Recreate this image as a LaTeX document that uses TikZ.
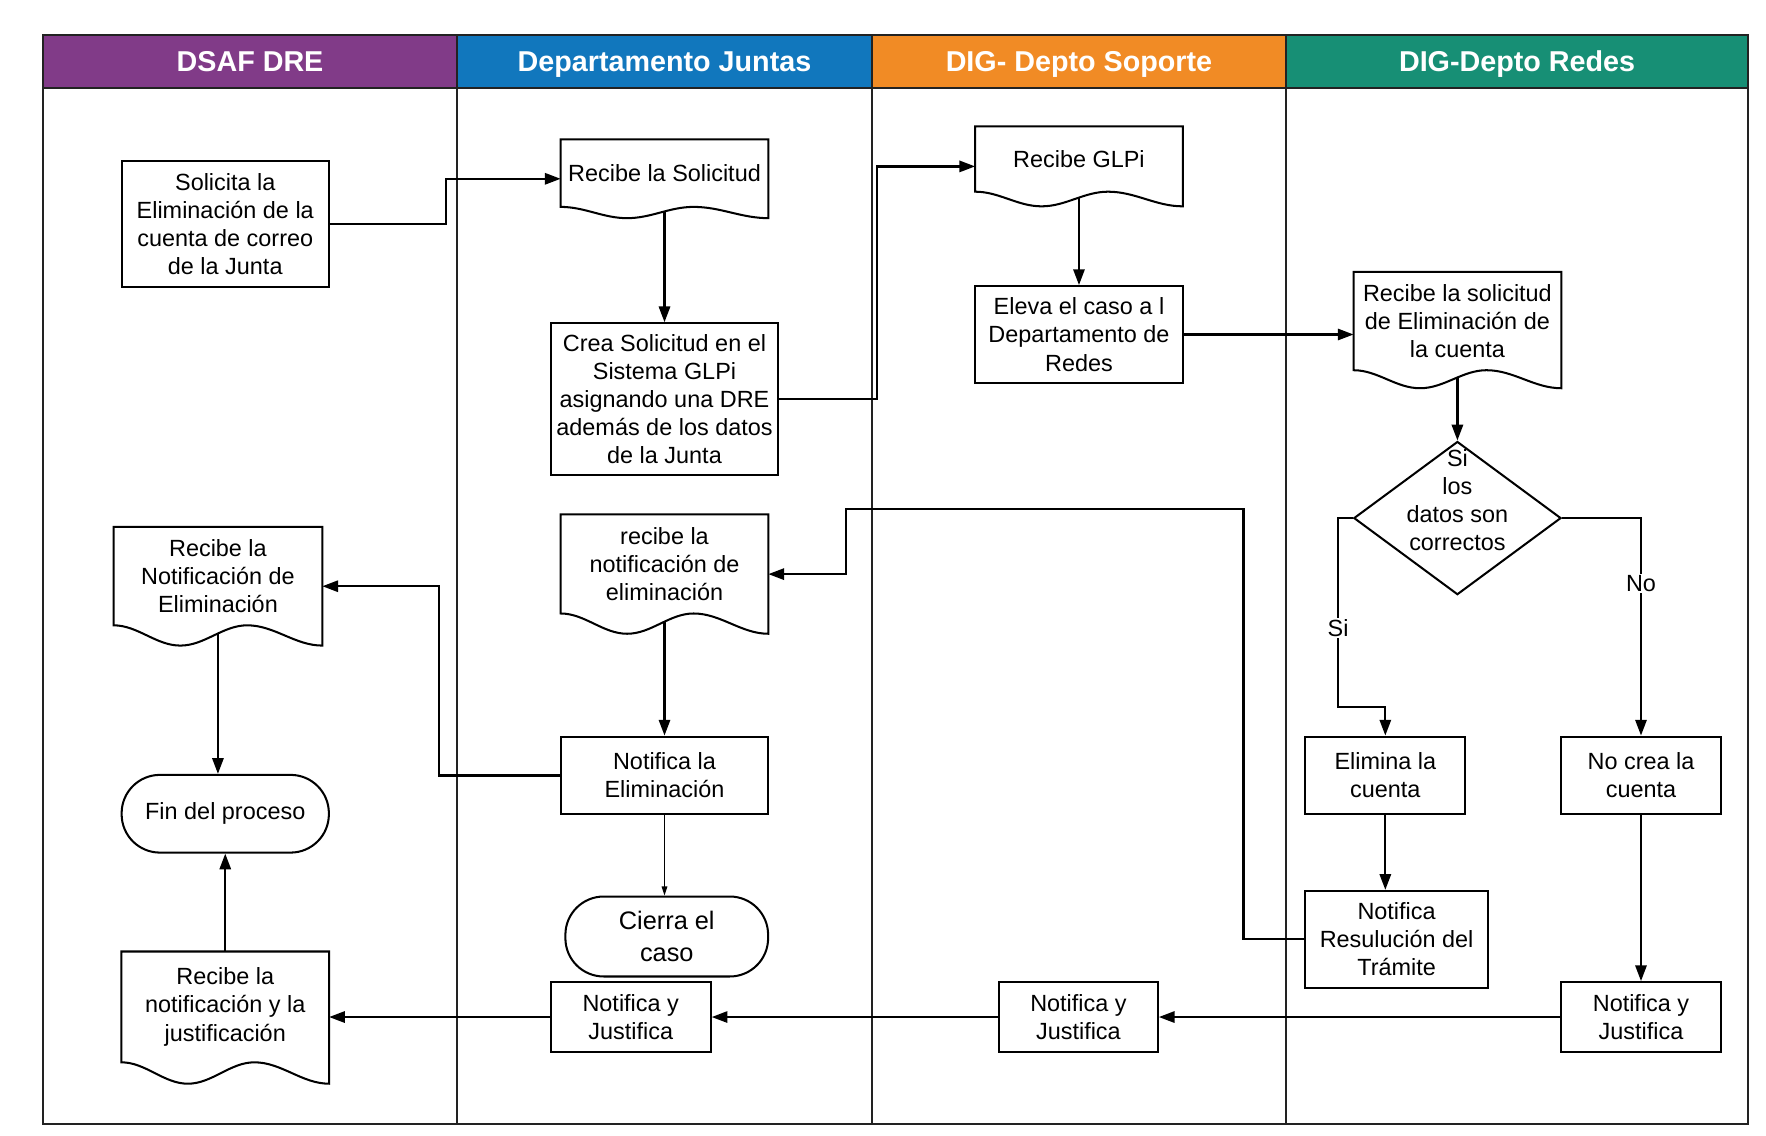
\documentclass[tikz,border=0pt]{standalone}
\usepackage{fontspec}
\setmainfont{Liberation Sans}
\usetikzlibrary{arrows.meta,calc,shapes.geometric}

\definecolor{cdsaf}{HTML}{813B88}
\definecolor{cjuntas}{HTML}{1177BD}
\definecolor{csoporte}{HTML}{F18B25}
\definecolor{credes}{HTML}{178F75}
\definecolor{cframe}{HTML}{222222}

\newcommand{\bodyfont}{\fontsize{20.8}{25}\selectfont}
\newcommand{\bigbodyfont}{\fontsize{22.5}{29}\selectfont}
\newcommand{\headfont}{\fontsize{25.5}{30}\selectfont\bfseries}

% document symbol: box down to the crest, wave of depth #2 below it
\newcommand{\docshape}[2]{%
  \draw[line width=1.8pt] (#1.north west) -- (#1.north east) -- ($(#1.south east)+(0,#2)$)
    cos ($(#1.south west)!.82!(#1.south east)+(0,#2/2)$)
    sin ($(#1.south west)!.64!(#1.south east)$)
    cos ($(#1.south west)!.48!(#1.south east)+(0,#2/2)$)
    sin ($(#1.south west)!.32!(#1.south east)+(0,#2)$)
    cos ($(#1.south west)!.16!(#1.south east)+(0,#2/2)$)
    sin (#1.south west) -- cycle;
  \coordinate (#1-out) at ($(#1.south)+(0,0.4*#2)$);
  \coordinate (#1-w) at ($(#1.west)+(0,#2/2)$);
  \coordinate (#1-e) at ($(#1.east)+(0,#2/2)$);
}

\tikzset{
  lanehead/.style={draw=cframe, line width=1.8pt, minimum height=47pt, inner sep=0pt,
    text=white, font=\headfont, text height=18pt, text depth=0pt},
  frame/.style={draw=cframe, line width=1.8pt},
  proc/.style={draw, line width=1.8pt, align=center, inner sep=0pt, font=\bodyfont},
  doc/.style={align=center, inner sep=0pt, font=\bodyfont},
  term/.style={draw, line width=1.8pt, rounded corners=34pt, align=center, inner sep=0pt, font=\bodyfont},
  decision/.style={draw, diamond, line width=1.8pt, inner sep=0pt, font=\bodyfont,
    minimum width=184pt, minimum height=136pt},
  flow/.style={line width=2pt, -{Triangle[length=14pt,width=10pt]}},
  flowthin/.style={line width=1pt, -{Triangle[length=8pt,width=5pt]}},
  lbl/.style={fill=white, inner sep=1pt, font=\bodyfont}
}

\begin{document}
\begin{tikzpicture}[x=1pt,y=-1pt]
\useasboundingbox (0,0) rectangle (1568,1008);

\draw[frame] (38,78) rectangle (1552,998);
\foreach \x in {406,774,1142}
  \draw[frame] (\x,78) -- (\x,998);
\node[lanehead, fill=cdsaf, minimum width=368pt] (hdsaf) at (222,54.5) {DSAF DRE};
\node[lanehead, fill=cjuntas, minimum width=368pt] (hjuntas) at (590,54.5) {Departamento Juntas};
\node[lanehead, fill=csoporte, minimum width=368pt] (hsoporte) at (958,54.5) {DIG- Depto Soporte};
\node[lanehead, fill=credes, minimum width=410pt] (hredes) at (1347,54.5) {DIG-Depto Redes};

\node[proc, minimum width=184pt, minimum height=112pt] (solicita) at (200,199)
  {Solicita la\\Eliminación de la\\cuenta de correo\\de la Junta};
\node[doc, minimum width=185pt, minimum height=87pt] (recnot) at (193.5,511.5)
  {Recibe la\\Notificación de\\Eliminación};
\docshape{recnot}{18}
\node[term, minimum width=184pt, minimum height=69pt] (fin) at (200,722.5) {Fin del proceso};
\node[doc, minimum width=184pt, minimum height=98pt] (recjus) at (200,894)
  {Recibe la\\notificación y la\\justificación};
\docshape{recjus}{19}

\node[doc, minimum width=184pt, minimum height=59.5pt] (recsol) at (590,153.75) {Recibe la Solicitud};
\docshape{recsol}{10}
\node[proc, minimum width=202pt, minimum height=135pt] (crea) at (590,354.5)
  {Crea Solicitud en el\\Sistema GLPi\\asignando una DRE\\además de los datos\\de la Junta};
\node[doc, minimum width=184pt, minimum height=87.5pt] (recnotb) at (590,500.75)
  {recibe la\\notificación de\\eliminación};
\docshape{recnotb}{18}
\node[proc, minimum width=184pt, minimum height=69pt] (notelim) at (590,688.5) {Notifica la\\Eliminación};
\node[term, font=\bigbodyfont, minimum width=180pt, minimum height=71pt] (cierra) at (592,831.5) {Cierra el\\caso};
\node[proc, minimum width=142pt, minimum height=62pt] (njjuntas) at (560,903) {Notifica y\\Justifica};

\node[doc, minimum width=184pt, minimum height=57.5pt] (recglpi) at (958,141.25) {Recibe GLPi};
\docshape{recglpi}{13}
\node[proc, minimum width=184pt, minimum height=86pt] (eleva) at (958,297)
  {Eleva el caso a l\\Departamento de\\Redes};
\node[proc, minimum width=141pt, minimum height=62pt] (njsoporte) at (957.5,903) {Notifica y\\Justifica};

\node[doc, minimum width=184pt, minimum height=87pt] (recred) at (1294,285)
  {Recibe la solicitud\\de Eliminación de\\la cuenta};
\docshape{recred}{16}
\node[decision] (datos) at (1294,460)
  {\raisebox{8.3pt}[0pt][0pt]{\begin{tabular}{@{}c@{}}Si\\los\\datos son\\correctos\end{tabular}}};
\node[proc, minimum width=142pt, minimum height=69pt] (elimina) at (1230,688.5) {Elimina la\\cuenta};
\node[proc, minimum width=142pt, minimum height=69pt] (nocrea) at (1457,688.5) {No crea la\\cuenta};
\node[proc, minimum width=162pt, minimum height=86pt] (notres) at (1240,834)
  {Notifica\\Resulución del\\Trámite};
\node[proc, minimum width=142pt, minimum height=62pt] (njredes) at (1457,903) {Notifica y\\Justifica};

\draw[flow] (solicita.east) -- ++(103,0) |- (recsol-w);
\draw[flow] (recsol-out) -- (crea.north);
\draw[flow] (crea.east) -- ++(87,0) |- (recglpi-w);
\draw[flow] (recglpi-out) -- (eleva.north);
\draw[flow] (eleva.east) -- (eleva.east -| recred.west);
\draw[flow] (recred-out) -- (datos.north);
\draw[flow] (datos.west) -- ++(-13,0) -- node[lbl,pos=0.58] (lsi) {Si} ++(0,168) -| (elimina.north);
\draw[flow] (datos.east) -| node[lbl,pos=0.65] (lno) {No} (nocrea.north);
\draw[flow] (elimina.south) -- (elimina.south |- notres.north);
\draw[flow] (nocrea.south) -- (njredes.north);
\draw[flow] (notres.west) -- ++(-54,0) |- ++(-353,-382) |- (recnotb-e);
\draw[flow] (recnotb-out) -- (notelim.north);
\draw[flow] (notelim.west) -- ++(-107,0) |- (recnot-e);
\draw[flowthin] (notelim.south) -- (notelim.south |- cierra.north);
\draw[flow] (recnot-out) -- (recnot-out |- fin.north);
\draw[flow] (recjus.north) -- (fin.south);
\draw[flow] (njredes.west) -- (njsoporte.east);
\draw[flow] (njsoporte.west) -- (njjuntas.east);
\draw[flow] (njjuntas.west) -- (njjuntas.west -| recjus-e);
\end{tikzpicture}
\end{document}
